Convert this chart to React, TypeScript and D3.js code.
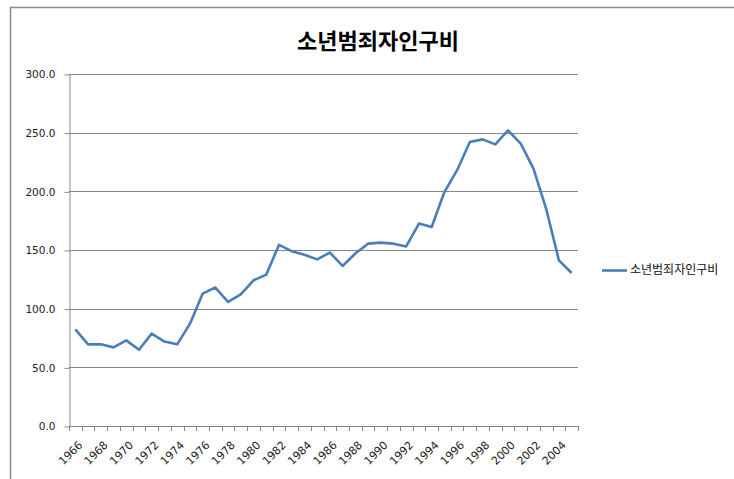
import React, {useEffect, useRef} from 'react';
import * as d3 from 'd3';

// years on the category axis
const years: string[] = d3.range(1966, 2006).map(String);

// 소년범죄자인구비
const ratio: number[] = [
    82.4, 69.6, 69.6, 67.0, 73.0, 65.0, 78.7, 72.0, 69.6, 87.0,
    112.8, 118.0, 105.7, 112.2, 124.2, 129.0, 154.3, 149.0, 146.0, 142.0,
    147.8, 136.4, 147.0, 155.4, 156.3, 155.4, 153.0, 172.5, 169.6, 199.4,
    218.0, 242.0, 244.3, 240.0, 252.0, 240.7, 219.4, 185.0, 141.2, 130.4
];

const yTicks: number[] = [0, 50, 100, 150, 200, 250, 300];
const title = '소년범죄자인구비';
const seriesName = '소년범죄자인구비';

const W = 734, H = 479;
const plot = {left: 69, right: 578, top: 74, bottom: 426};
const lineColor = '#4a7ebb';
const gridColor = '#878787';
const numFont = '"DejaVu Sans", Verdana, sans-serif';
const krFont = '"Noto Sans CJK KR", "Noto Sans", sans-serif';

export default function App(){
    const ref = useRef<SVGSVGElement>(null);

    useEffect(()=>{
        const svg = d3.select(ref.current);
        svg.selectAll('*').remove();

        //outer chart frame, only top and left edges show
        svg.append('path')
            .attr('d', `M10.5,${H} L10.5,7.5 L${W},7.5`)
            .attr('fill','none').attr('stroke','#8c8c8c').attr('stroke-width',1.5);

        let xScale = d3.scaleBand().domain(years).range([plot.left, plot.right]);
        let yScale = d3.scaleLinear().domain([0,300]).range([plot.bottom, plot.top]);

        //gridlines
        svg.selectAll('.grid').data(yTicks.filter(d=>d>0)).enter().append('line')
            .attr('class','grid')
            .attr('x1',plot.left).attr('x2',plot.right)
            .attr('y1',d=>Math.round(yScale(d))+0.5).attr('y2',d=>Math.round(yScale(d))+0.5)
            .attr('stroke',gridColor).attr('stroke-width',1);

        //y axis
        const yAxis = svg.append('g').attr('transform',`translate(${plot.left+0.5},0.5)`)
            .call(d3.axisLeft(yScale).tickValues(yTicks).tickFormat(d3.format('.1f')).tickSize(5).tickSizeOuter(0));
        yAxis.select('.domain').attr('stroke',gridColor);
        yAxis.selectAll('line').attr('stroke',gridColor);
        yAxis.selectAll('text').attr('font-family',numFont).attr('font-size',10.5).attr('fill','#222').attr('dx',-6);

        //x axis with ticks between categories
        const bounds = years.map(y=>xScale(y) as number).concat([plot.right]);
        const xg = svg.append('g');
        xg.append('line').attr('x1',plot.left).attr('x2',plot.right)
            .attr('y1',Math.round(plot.bottom)+0.5).attr('y2',Math.round(plot.bottom)+0.5)
            .attr('stroke',gridColor);
        xg.selectAll('.xtick').data(bounds).enter().append('line')
            .attr('class','xtick')
            .attr('x1',d=>Math.round(d)+0.5).attr('x2',d=>Math.round(d)+0.5)
            .attr('y1',plot.bottom).attr('y2',plot.bottom+5)
            .attr('stroke',gridColor);
        xg.selectAll('.xlabel').data(years.filter((d,i)=>i%2===0)).enter().append('text')
            .attr('class','xlabel')
            .attr('transform',d=>`translate(${(xScale(d) as number)+xScale.bandwidth()/2+5},${plot.bottom+17}) rotate(-45)`)
            .attr('text-anchor','end').attr('dy','0.35em')
            .attr('font-family',numFont).attr('font-size',11).attr('fill','#222')
            .text(d=>d);

        //the series
        const line = d3.line<number>()
            .x((d,i)=>(xScale(years[i]) as number)+xScale.bandwidth()/2)
            .y(d=>yScale(d));
        svg.append('path').datum(ratio)
            .attr('d',line)
            .attr('fill','none').attr('stroke',lineColor).attr('stroke-width',2.6)
            .attr('stroke-linejoin','round');

        //title
        svg.append('text').attr('x',378).attr('y',49)
            .attr('text-anchor','middle')
            .attr('font-family',krFont).attr('font-weight','bold').attr('font-size',22)
            .text(title);

        //legend
        svg.append('line').attr('x1',602).attr('x2',627).attr('y1',270.5).attr('y2',270.5)
            .attr('stroke',lineColor).attr('stroke-width',2.6);
        svg.append('text').attr('x',630).attr('y',270).attr('dy','0.35em')
            .attr('font-family',krFont).attr('font-size',12).attr('fill','#111')
            .text(seriesName);
    },[]);

    return (
        <svg ref={ref} width={W} height={H}
            style={{position:'absolute',left:0,top:0,background:'white'}}></svg>
    );
}
